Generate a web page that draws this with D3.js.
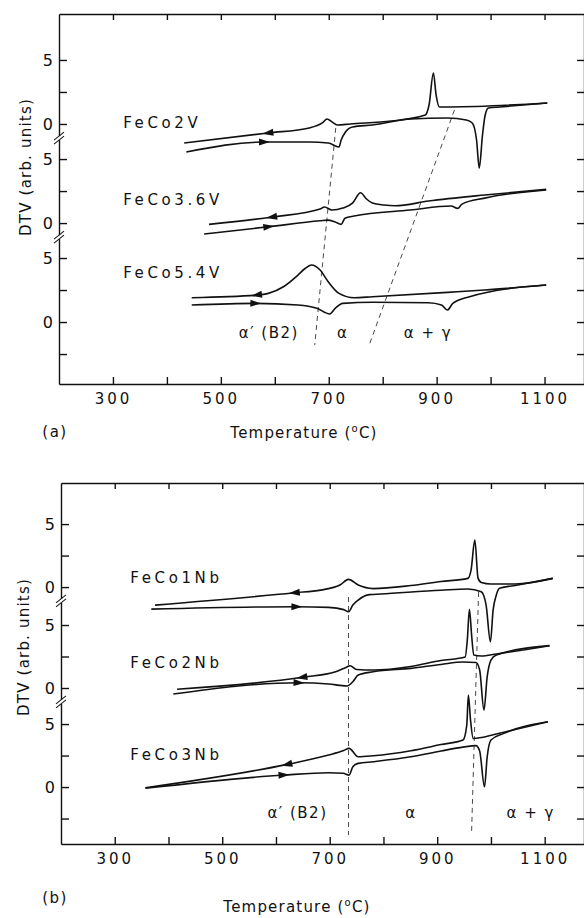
<!DOCTYPE html>
<html lang='en'>
<head>
<meta charset='utf-8'>
<title>DTV curves of FeCo alloys</title>
<script src="https://d3js.org/d3.v7.min.js"></script>
<style>
	body { margin: 0; background: #fff; }
	text { font-family: 'DejaVu Sans', 'Liberation Sans', Arial, sans-serif; fill: #111; }
	.axis path, .axis line { stroke: #111; stroke-width: 1.4; }
	.curve { fill: none; stroke: #111; stroke-width: 1.6; }
	.dash { fill: none; stroke: #333; stroke-width: 0.9; stroke-dasharray: 5,4; }
</style>
</head>
<body>
<div id="chart"></div>
<script>
var width = 584, height = 918;

// ---- axis ticks ----
var xTicks = [300, 400, 500, 600, 700, 800, 900, 1000, 1100];
var xLabels = [300, 500, 700, 900, 1100];
var groupTicks = [0, 2.5, 5];
var groupLabels = [0, 5];

// ---- panel (a) : V additions, [T (deg C), DTV] ----
var samplesA = ['FeCo2V', 'FeCo3.6V', 'FeCo5.4V'];
var offsetsA = [15.47, 7.73, 0];

var feCo2V_cool = [[432,-1.48],[588,-0.70],[664,-0.31],[688,0.08],[697,0.39],[706,0.16],[716,-0.08],[740,0],
	[816,0.23],[879,0.70],[886,1.5],[894,3.98],[899,2.27],[905,1.33],[925,1.33],[1105,1.64]];
var feCo2V_heat = [[436,-2.19],[580,-1.41],[664,-1.41],[699,-1.48],[719,-1.80],[723,-1.25],[731,-0.63],[744,-0.23],
	[781,-0.08],[851,0.39],[920,0.47],[955,0.31],[966,0.08],[974,-1.25],[979,-3.44],[985,-0.86],[990,0.70],
	[996,1.25],[1018,1.33],[1105,1.64]];

var feCo36V_cool = [[478,-0.10],[595,0.47],[684,1.09],[692,1.25],[706,1.02],[726,1.17],[744,1.56],[759,2.37],
	[770,1.88],[781,1.56],[802,1.41],[823,1.35],[885,1.72],[989,2.19],[1103,2.63]];
var feCo36V_heat = [[469,-0.86],[588,-0.29],[684,0.18],[698,0.23],[712,0.08],[723,-0.10],[730,0.37],[747,0.55],
	[851,1.02],[927,1.33],[939,1.15],[947,1.48],[989,1.95],[1103,2.58]];

var feCo54V_cool = [[446,1.90],[567,2.11],[588,2.24],[616,2.76],[643,3.67],[656,4.18],[668,4.45],[684,4.06],
	[699,3.15],[719,2.24],[747,1.90],[781,1.98],[920,2.32],[989,2.5],[1103,2.89]];
var feCo54V_heat = [[446,1.33],[564,1.46],[643,1.33],[678,1.07],[702,0.63],[712,1.07],[726,1.46],[781,1.54],
	[885,1.51],[909,1.33],[920,0.94],[930,1.46],[961,1.98],[1103,2.89]];

var coolingA = [feCo2V_cool, feCo36V_cool, feCo54V_cool];
var heatingA = [feCo2V_heat, feCo36V_heat, feCo54V_heat];
var coolArrowA = [588, 595, 567];
var heatArrowA = [580, 588, 564];
var labelTA = 319;
var labelVA = [-0.31, 1.41, 3.44];

var dashA = [[[713, 15.16], [674, -1.80]], [[933, 16.56], [775, -1.80]]];
var phaseLabels = ['α′ (B2)', 'α', 'α + γ'];
var phaseTA = [589, 726, 884];
var phaseVA = -1.25;

// ---- panel (b) : Nb additions ----
var samplesB = ['FeCo1Nb', 'FeCo2Nb', 'FeCo3Nb'];
var offsetsB = [15.87, 7.86, 0];

var feCo1Nb_cool = [[375,-1.43],[635,-0.45],[683,-0.24],[719,0.16],[735,0.61],[753,0.16],[781,-0.12],[851,0.12],
	[907,0.44],[957,0.69],[963,1.35],[970,3.73],[976,0.71],[982,0.36],[1000,0.24],[1045,0.24],[1115,0.69]];
var feCo1Nb_heat = [[368,-1.75],[638,-1.56],[698,-1.61],[726,-1.79],[735,-1.96],[743,-1.43],[753,-1.03],[774,-0.60],
	[795,-0.55],[907,-0.25],[957,-0.15],[982,-0.37],[991,-1.43],[999,-4.34],[1004,-1.83],[1010,-0.63],
	[1016,-0.10],[1050,0.16],[1115,0.69]];

var feCo2Nb_cool = [[416,-0.10],[649,0.85],[711,1.29],[730,1.63],[738,1.77],[750,1.47],[781,1.43],[851,1.71],
	[907,2.18],[952,2.46],[956,3.81],[960,6.25],[964,4.21],[968,2.62],[982,2.54],[1010,2.70],[1109,3.36]];
var feCo2Nb_heat = [[409,-0.48],[642,0.42],[698,0.32],[732,0.16],[743,0.50],[753,1.03],[781,1.29],[851,1.56],
	[907,1.87],[948,2.06],[972,2.02],[979,1.43],[987,-1.75],[993,0.90],[1000,2.22],[1010,2.62],[1109,3.36]];

var feCo3Nb_cool = [[357,-0.06],[621,1.80],[698,2.54],[726,2.90],[736,3.07],[753,2.40],[781,2.48],[851,2.88],
	[907,3.37],[948,3.73],[955,4.92],[958,7.30],[962,5.32],[967,3.85],[982,3.93],[1010,4.21],[1106,5.18]];
var feCo3Nb_heat = [[357,-0.10],[614,0.95],[698,1.13],[725,1.09],[736,0.95],[743,1.61],[753,1.88],[781,2.01],
	[851,2.40],[907,2.86],[948,3.17],[972,3.29],[979,2.86],[988,0.02],[993,2.40],[1000,3.73],[1024,4.26],[1106,5.18]];

var coolingB = [feCo1Nb_cool, feCo2Nb_cool, feCo3Nb_cool];
var heatingB = [feCo1Nb_heat, feCo2Nb_heat, feCo3Nb_heat];
var coolArrowB = [635, 649, 621];
var heatArrowB = [638, 642, 614];
var labelTB = 329;
var labelVB = [0.32, 1.58, 2.14];

var dashB = [[[735, 15.08], [735, -3.81]], [[977, 15.48], [964, -3.57]]];
var phaseTB = [640, 851, 1074];
var phaseVB = -2.46;

// ---- layout ----
var panels = [
	{ left: 59, right: 585, top: 14, bottom: 384, yDomain: [-4.84, 24.06],
		names: samplesA, offsets: offsetsA, cool: coolingA, heat: heatingA,
		coolArrow: coolArrowA, heatArrow: heatArrowA, labelT: labelTA, labelV: labelVA,
		dashes: dashA, phaseT: phaseTA, phaseV: phaseVA,
		tag: '(a)', tagX: 55, tagY: 437, titleX: 304, titleY: 438, yTitleX: 26, yTitleY: 167 },
	{ left: 61, right: 585, top: 483, bottom: 844, yDomain: [-4.52, 24.13],
		names: samplesB, offsets: offsetsB, cool: coolingB, heat: heatingB,
		coolArrow: coolArrowB, heatArrow: heatArrowB, labelT: labelTB, labelV: labelVB,
		dashes: dashB, phaseT: phaseTB, phaseV: phaseVB,
		tag: '(b)', tagX: 55, tagY: 903, titleX: 297, titleY: 912, yTitleX: 24, yTitleY: 647 }
];

var svg = d3.select('#chart').append('svg')
	.attr('width', width)
	.attr('height', height);

function interp(pts, t) {
	for (var i = 1; i < pts.length; i++) {
		if (pts[i][0] >= t) {
			var a = pts[i - 1], b = pts[i];
			return a[1] + (t - a[0]) / (b[0] - a[0]) * (b[1] - a[1]);
		}
	}
	return pts[pts.length - 1][1];
}

panels.forEach(function(p) {
	var x = d3.scaleLinear().domain([200, 1175]).range([p.left, p.right]);
	var y = d3.scaleLinear().domain(p.yDomain).range([p.bottom, p.top]);

	// left ticks, one set per stacked curve
	var yTicks = [];
	p.offsets.forEach(function(off, g) {
		var vals = groupTicks.slice();
		if (g === p.offsets.length - 1) vals.unshift(-2.5);
		vals.forEach(function(v) {
			yTicks.push({ pos: v + off, label: groupLabels.indexOf(v) >= 0 ? String(v) : '' });
		});
	});
	var tickPos = yTicks.map(function(d) { return d.pos; });

	var xAxis = d3.axisBottom(x).tickValues(xTicks).tickSizeInner(-7).tickSizeOuter(0).tickPadding(9)
		.tickFormat(function(d) { return xLabels.indexOf(d) >= 0 ? d : ''; });
	var gx = svg.append('g').attr('class', 'axis')
		.attr('transform', 'translate(0,' + p.bottom + ')')
		.call(xAxis);
	gx.selectAll('text').style('font-size', '15px').style('letter-spacing', '3px')
		.style('font-family', "'DejaVu Sans', sans-serif").attr('fill', '#111');

	svg.append('g').attr('class', 'axis')
		.attr('transform', 'translate(0,' + p.top + ')')
		.call(d3.axisTop(x).tickValues(xTicks).tickSizeInner(-6).tickSizeOuter(0).tickFormat(''));

	var gy = svg.append('g').attr('class', 'axis')
		.attr('transform', 'translate(' + p.left + ',0)')
		.call(d3.axisLeft(y).tickValues(tickPos).tickSizeInner(-8).tickSizeOuter(0).tickPadding(6)
			.tickFormat(function(d, i) { return yTicks[i].label; }));
	gy.selectAll('text').style('font-size', '16px')
		.style('font-family', "'DejaVu Sans', sans-serif").attr('fill', '#111');

	svg.append('g').attr('class', 'axis')
		.attr('transform', 'translate(' + (p.right - 1) + ',0)')
		.call(d3.axisRight(y).tickValues(tickPos).tickSizeInner(-7).tickSizeOuter(0).tickFormat(''));

	// axis breaks between the stacked curves
	p.offsets.slice(0, -1).forEach(function(off) {
		var by = y(off - 1.1);
		svg.append('rect')
			.attr('x', p.left - 3).attr('y', by - 2).attr('width', 6).attr('height', 4)
			.attr('fill', '#fff');
		[-2, 2].forEach(function(s) {
			svg.append('line')
				.attr('x1', p.left - 5).attr('y1', by + s + 4)
				.attr('x2', p.left + 5).attr('y2', by + s - 4)
				.attr('stroke', '#111').attr('stroke-width', 1.1);
		});
	});

	// phase boundaries
	p.dashes.forEach(function(d) {
		svg.append('line').attr('class', 'dash')
			.attr('x1', x(d[0][0])).attr('y1', y(d[0][1]))
			.attr('x2', x(d[1][0])).attr('y2', y(d[1][1]));
	});

	// curves
	p.names.forEach(function(name, i) {
		var off = p.offsets[i];
		var line = d3.line()
			.x(function(d) { return x(d[0]); })
			.y(function(d) { return y(d[1] + off); })
			.curve(d3.curveMonotoneX);

		[p.cool[i], p.heat[i]].forEach(function(pts) {
			svg.append('path').attr('class', 'curve').attr('d', line(pts));
		});

		// direction arrows: cooling to the left, heating to the right
		[[p.cool[i], p.coolArrow[i], -1], [p.heat[i], p.heatArrow[i], 1]].forEach(function(a) {
			var t = a[1], dir = a[2];
			var px = x(t), py = y(interp(a[0], t) + off);
			var qx = x(t + 5), qy = y(interp(a[0], t + 5) + off);
			var ang = Math.atan2(qy - py, qx - px) * 180 / Math.PI + (dir < 0 ? 180 : 0);
			svg.append('path')
				.attr('d', 'M6,0L-5,-3.5L-5,3.5Z')
				.attr('fill', '#111')
				.attr('transform', 'translate(' + px + ',' + py + ') rotate(' + ang + ')');
		});

		svg.append('text')
			.attr('x', x(p.labelT))
			.attr('y', y(p.labelV[i] + off))
			.style('font-size', '15px')
			.style('letter-spacing', '3.6px')
			.text(name);
	});

	// phase field names
	phaseLabels.forEach(function(l, i) {
		svg.append('text')
			.attr('x', x(p.phaseT[i]))
			.attr('y', y(p.phaseV))
			.attr('text-anchor', 'middle')
			.style('font-size', '15px')
			.style('letter-spacing', '1.5px')
			.text(l);
	});

	// titles
	svg.append('text')
		.attr('transform', 'translate(' + p.yTitleX + ',' + p.yTitleY + ') rotate(-90)')
		.attr('text-anchor', 'middle')
		.attr('dy', '0.35em')
		.style('font-size', '15px')
		.style('letter-spacing', '1.2px')
		.text('DTV (arb. units)');

	var tt = svg.append('text')
		.attr('x', p.titleX)
		.attr('y', p.titleY)
		.attr('text-anchor', 'middle')
		.style('font-size', '15px')
		.style('letter-spacing', '1.2px');
	tt.append('tspan').text('Temperature (');
	tt.append('tspan').attr('dy', -6).style('font-size', '10px').text('o');
	tt.append('tspan').attr('dy', 6).text('C)');

	svg.append('text')
		.attr('x', p.tagX)
		.attr('y', p.tagY)
		.attr('text-anchor', 'middle')
		.style('font-size', '15px')
		.style('letter-spacing', '1.5px')
		.text(p.tag);
});
</script>
</body>
</html>
